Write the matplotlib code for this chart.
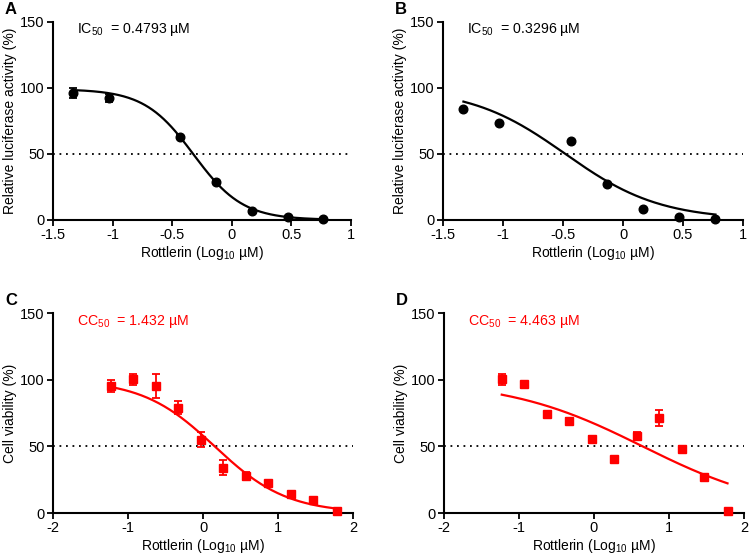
import numpy as np
import matplotlib
matplotlib.use("Agg")
import matplotlib.pyplot as plt

plt.rcParams["font.family"] = ["Liberation Sans", "DejaVu Sans"]
plt.rcParams["mathtext.fontset"] = "custom"
plt.rcParams["mathtext.rm"] = "Liberation Sans"
plt.rcParams["mathtext.it"] = "Liberation Sans"

# log10 concentrations (uM)
x_ab = [-1.33, -1.03, -0.43, -0.13, 0.17, 0.47, 0.77]
x_cd = [-1.23, -0.93, -0.63, -0.33, -0.03, 0.27, 0.57, 0.87, 1.17, 1.47, 1.78]

# A: luciferase, cell line 1
y_a = [96, 92, 63, 29, 6.5, 2, 0.8]
err_a = [4, 3, 1, 1, 1, 0.5, 0.5]
# B: luciferase, cell line 2
y_b = [84, 73.5, 59.5, 27.5, 8, 2, 0.3]
err_b = [0, 0, 0, 0, 0, 0, 0]
# C: viability, cell line 1
y_c = [95.5, 100.5, 95.5, 79, 55, 34, 27.5, 22.5, 14, 9.8, 1.5]
err_c = [4.5, 4, 9, 5, 5.5, 5.5, 3, 1, 1, 1, 1]
# D: viability, cell line 2
y_d = [100.5, 97.2, 74.5, 69, 55.8, 40.3, 58, 71.5, 48, 27, 1.2]
err_d = [4, 1, 1, 2, 2, 1, 2.5, 6, 2, 1, 1]

# 4PL fit parameters: top, bottom, logX50, hill slope
fit_a = (99, 0, -0.32, 2.1)
fit_b = (100, 0, -0.482, 1.1)
fit_c = (100, 0, 0.156, 0.9)
fit_d = (100, 0, 0.65, 0.48)

labels_x = "Rottlerin (Log$_{10}$ µM)"
RED = "#ff0000"


def curve(p, lo, hi):
    top, bot, lx50, h = p
    xs = np.linspace(lo, hi, 200)
    return xs, bot + (top - bot) / (1 + 10 ** ((xs - lx50) * h))


def panel(rect, letter, x, y, err, fit, xlim, xticks, xtl, ylabel, txt, color, marker):
    ax = fig.add_axes(rect)
    ax.axhline(50, color="black", lw=1.3, ls=(0, (1, 2.6)), zorder=1)
    xs, ys = curve(fit, x[0], x[-1])
    ax.plot(xs, ys, color=color, lw=1.6, zorder=2)
    ax.errorbar(x, y, yerr=err, fmt=marker, color=color, ms=6.2, capsize=3,
                elinewidth=1.3, capthick=1.3, zorder=3, clip_on=False)
    ax.set_xlim(*xlim)
    ax.set_ylim(0, 150)
    ax.set_xticks(xticks)
    ax.set_xticklabels(xtl)
    ax.set_yticks([0, 50, 100, 150])
    for s in ("top", "right"):
        ax.spines[s].set_visible(False)
    for s in ("left", "bottom"):
        ax.spines[s].set_linewidth(1.5)
    ax.tick_params(width=1.3, length=4.5, labelsize=10.5, pad=1.5)
    ax.set_xlabel(labels_x, fontsize=10, labelpad=1)
    ax.set_ylabel(ylabel, fontsize=10, labelpad=2)
    ax.text(xlim[0] + 0.08 * (xlim[1] - xlim[0]), 144, txt, color=color,
            fontsize=10.2, va="center", ha="left")
    fig.text(rect[0] - 0.064, rect[1] + rect[3] + 0.036, letter,
             fontsize=12, fontweight="bold", va="top", ha="left")
    return ax


fig = plt.figure(figsize=(7.5, 5.58), dpi=100)

xt_ab = [-1.5, -1, -0.5, 0, 0.5, 1]
xtl_ab = ["-1.5", "-1", "-0.5", "0", "0.5", "1"]
xt_cd = [-2, -1, 0, 1, 2]
xtl_cd = ["-2", "-1", "0", "1", "2"]
lab_luc = "Relative luciferase activity (%)"
lab_via = "Cell viability (%)"

panel([0.0707, 0.606, 0.397, 0.355], "A", x_ab, y_a, err_a, fit_a, (-1.5, 1),
      xt_ab, xtl_ab, lab_luc, "IC$_{50}$  = 0.4793 µM", "black", "o")
panel([0.5907, 0.606, 0.400, 0.355], "B", x_ab, y_b, err_b, fit_b, (-1.5, 1),
      xt_ab, xtl_ab, lab_luc, "IC$_{50}$  = 0.3296 µM", "black", "o")
panel([0.0707, 0.0806, 0.400, 0.358], "C", x_cd, y_c, err_c, fit_c, (-2, 2),
      xt_cd, xtl_cd, lab_via, "CC$_{50}$  = 1.432 µM", RED, "s")
panel([0.592, 0.0806, 0.400, 0.358], "D", x_cd, y_d, err_d, fit_d, (-2, 2),
      xt_cd, xtl_cd, lab_via, "CC$_{50}$  = 4.463 µM", RED, "s")

fig.savefig("out.png", dpi=100)
